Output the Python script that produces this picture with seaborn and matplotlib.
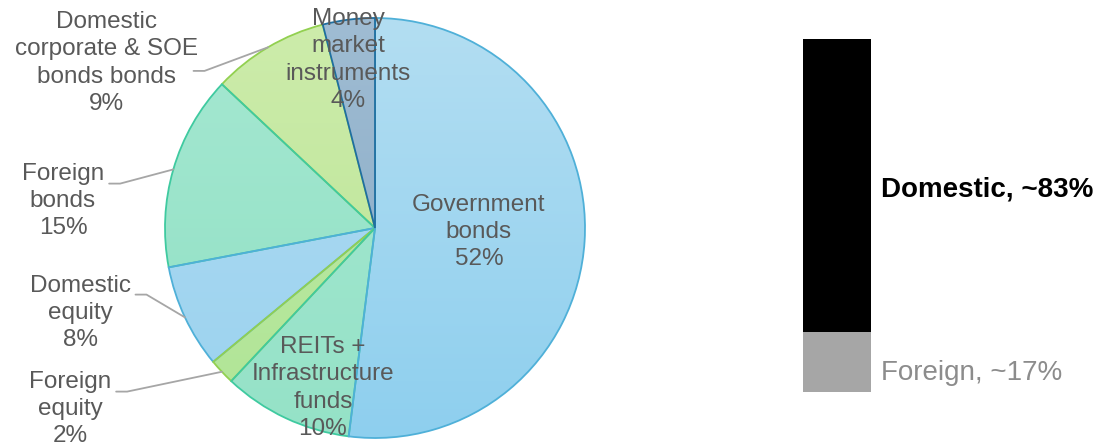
import numpy as np
import matplotlib
matplotlib.use("Agg")
import matplotlib.pyplot as plt
import seaborn as sns
import pandas as pd

sns.set_theme(style="white")
plt.rcParams['font.family'] = ['Liberation Sans', 'DejaVu Sans']

# ---- data ----
categories = ["Money\nmarket\ninstruments", "Domestic\ncorporate & SOE\nbonds bonds",
              "Foreign\nbonds", "Domestic\nequity", "Foreign\nequity",
              "REITs +\nInfrastructure\nfunds", "Government\nbonds"]
shares = [4, 9, 15, 8, 2, 10, 52]
split_labels = ["Domestic", "Foreign"]
split_values = [83, 17]

# styles
fill_top = ["#9fbcd3", "#cdecab", "#a6e8d2", "#b1dcf2", "#bfe9a6", "#a6e8d2", "#b3def2"]
fill_bot = ["#86a9c4", "#b9e494", "#8fe0c3", "#9ad2ef", "#b0e596", "#95e2c7", "#8ecfee"]
edges = ["#1f6fa0", "#92d050", "#3fcaa0", "#4fb0d8", "#92d050", "#3fcaa0", "#4fb0d8"]
label_xy_px = [(348, 60), (106, 63), (63, 201), (80, 313), (70, 409), (323, 388), (479, 232)]
# (line index, vertical offset px, horizontal gap px) where a leader line starts
leader = [None, (2, -5, 18), (0, 8, 5), (0, 7, 5), (0, 8, 5), None, None]
text_color = "#595959"
fs = 17.5
ls = 1.3

W, H = 1096, 447
fig = plt.figure(figsize=(W / 100, H / 100), dpi=100)

cx, cy, R = 375, 228, 210
ax = fig.add_axes([(cx - R) / W, (H - cy - R) / H, 2 * R / W, 2 * R / H])
wedges, _ = ax.pie(shares, startangle=90, counterclock=True, radius=1,
                   wedgeprops=dict(linewidth=1.3))
ax.set_xlim(-1, 1)
ax.set_ylim(-1, 1)
ax.set_aspect('equal')
ax.axis('off')

def px2d(px, py):
    return (px - cx) / R, (cy - py) / R

renderer = fig.canvas.get_renderer()

def line_width_px(s):
    t = fig.text(0, 0, s, fontsize=fs)
    w = t.get_window_extent(renderer=renderer).width
    t.remove()
    return w

for i, w in enumerate(wedges):
    z = 3 if i == 0 else 1
    w.set_zorder(z)
    w.set_edgecolor(edges[i])
    w.set_facecolor("none")
    c1 = np.array(matplotlib.colors.to_rgb(fill_top[i]))
    c2 = np.array(matplotlib.colors.to_rgb(fill_bot[i]))
    t = np.linspace(0, 1, 256)[:, None]
    grad = (c1[None, :] * (1 - t) + c2[None, :] * t)[:, None, :]
    im = ax.imshow(grad, extent=[-1, 1, -1, 1], origin='upper', aspect='auto',
                   zorder=z - 0.1, interpolation='bilinear')
    im.set_clip_path(w)

    lx, ly = px2d(*label_xy_px[i])
    txt = ax.text(lx, ly, f"{categories[i]}\n{shares[i]}%", ha='center', va='center',
                  color=text_color, fontsize=fs, linespacing=ls, clip_on=False, zorder=5)
    if leader[i] is not None:
        row, dy, gap = leader[i]
        bb = txt.get_window_extent(renderer=renderer)
        lines = (categories[i] + f"\n{shares[i]}%").split("\n")
        n = len(lines)
        line_h = bb.height / n
        top_y = H - bb.y1  # in px from top
        ay_px = top_y + (row + 0.5) * line_h + dy
        ax_px = label_xy_px[i][0] + line_width_px(lines[row]) / 2 + gap
        mid = np.deg2rad((w.theta1 + w.theta2) / 2)
        ex, ey = np.cos(mid), np.sin(mid)
        ax0, ay0 = px2d(ax_px, ay_px)
        ax1, _ = px2d(ax_px + 11, ay_px)
        ax.plot([ax0, ax1, ex], [ay0, ay0, ey], color="#a6a6a6", lw=1.3,
                clip_on=False, zorder=4)

# ---- stacked bar ----
bx0, bx1, by0, by1 = 803, 871, 39, 392
bax = fig.add_axes([bx0 / W, (H - by1) / H, (bx1 - bx0) / W, (by1 - by0) / H])
df_total = pd.DataFrame({"cat": ["all"], "val": [sum(split_values)]})
df_for = pd.DataFrame({"cat": ["all"], "val": [split_values[1]]})
sns.barplot(data=df_total, x="cat", y="val", color="#000000", width=1,
            saturation=1, ax=bax, linewidth=0)
sns.barplot(data=df_for, x="cat", y="val", color="#a6a6a6", width=1,
            saturation=1, ax=bax, linewidth=0)
bax.set_xlim(-0.5, 0.5)
bax.set_ylim(0, 100)
bax.axis('off')

fs2 = 20
bax.text(0.5 + 10 / 68, split_values[1] + split_values[0] / 2 - 1.0,
         f"{split_labels[0]}, ~{split_values[0]}%", ha='left', va='center',
         fontsize=fs2, fontweight='bold', color='black', clip_on=False)
bax.text(0.5 + 10 / 68, 5.4, f"{split_labels[1]}, ~{split_values[1]}%",
         ha='left', va='center', fontsize=fs2, color='#8c8c8c', clip_on=False)

fig.savefig("out.png", dpi=100, facecolor="white")
